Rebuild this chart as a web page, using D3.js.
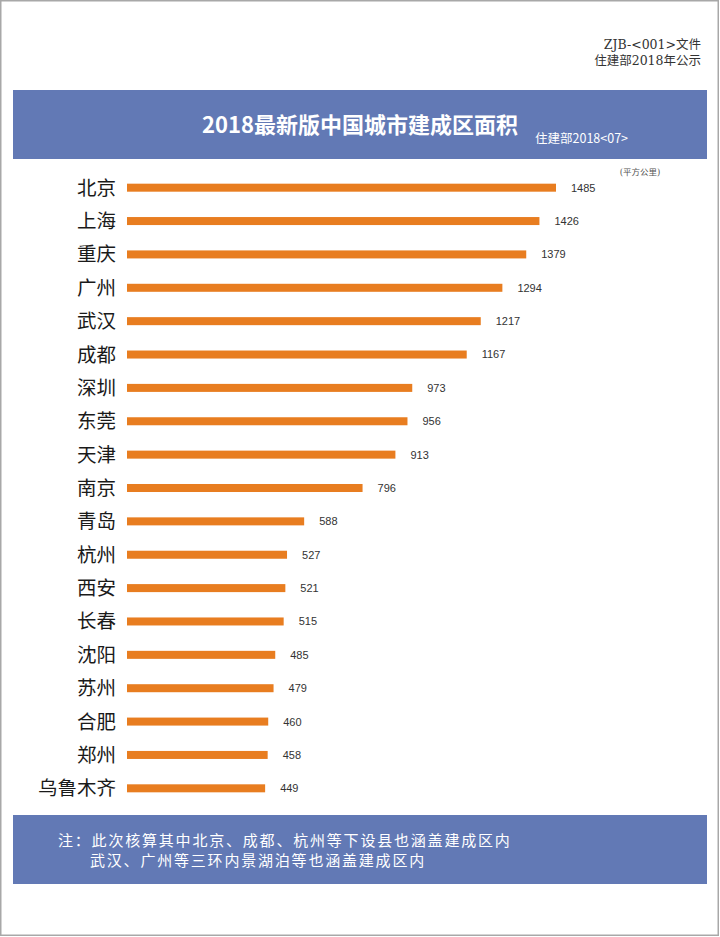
<!DOCTYPE html>
<html lang="zh">
<head>
<meta charset="UTF-8">
<title>2018最新版中国城市建成区面积</title>
<style>
  body, html { margin: 0; padding: 0; background: #fff; }
  #chart { width: 720px; height: 937px; }
</style>
<script src="https://d3js.org/d3.v7.min.js"></script>
</head>
<body>
<div id="chart"></div>
<script>
const cities = ["北京", "上海", "重庆", "广州", "武汉", "成都", "深圳", "东莞", "天津", "南京",
                "青岛", "杭州", "西安", "长春", "沈阳", "苏州", "合肥", "郑州", "乌鲁木齐"];
const areas = [1485, 1426, 1379, 1294, 1217, 1167, 973, 956, 913, 796,
               588, 527, 521, 515, 485, 479, 460, 458, 449];
const title = "2018最新版中国城市建成区面积";
const subtitle = "住建部2018<07>";
const docLines = ["ZJB-<001>文件", "住建部2018年公示"];
const unit = "(平方公里)";
const notes = ["注：此次核算其中北京、成都、杭州等下设县也涵盖建成区内",
               "武汉、广州等三环内景湖泊等也涵盖建成区内"];

const W = 720, H = 937;
const blue = "#6279b5", orange = "#e87d20";
const sans = "'Noto Sans CJK SC', 'Liberation Sans', Arial, sans-serif";
const serif = "'DejaVu Serif', 'Liberation Serif', 'Noto Sans CJK SC', serif";

const svg = d3.select("#chart").append("svg")
    .attr("width", W).attr("height", H);

// page frame
svg.append("rect")
    .attr("x", 0.75).attr("y", 0.75).attr("width", W - 2.5).attr("height", H - 2.5)
    .attr("fill", "#fff").attr("stroke", "#a8a8a8").attr("stroke-width", 1.5);

// document code top right
svg.selectAll("text.doc").data(docLines).enter().append("text")
    .attr("class", "doc")
    .attr("x", 701).attr("y", (d, i) => 49 + i * 16)
    .attr("text-anchor", "end")
    .style("font-family", serif).style("font-size", "12.5px").style("fill", "#333")
    .text(d => d);

// header band
svg.append("rect").attr("x", 13).attr("y", 90).attr("width", 694).attr("height", 69).attr("fill", blue);
svg.append("text")
    .attr("x", 360).attr("y", 133).attr("text-anchor", "middle")
    .style("font-family", sans).style("font-size", "22px").style("font-weight", "bold").style("fill", "#fff")
    .text(title);
svg.append("text")
    .attr("x", 535).attr("y", 143)
    .style("font-family", sans).style("font-size", "12.5px").style("fill", "#fff")
    .text(subtitle);

// unit
svg.append("text")
    .attr("x", 640).attr("y", 175).attr("text-anchor", "middle")
    .style("font-family", serif).style("font-size", "8.5px").style("fill", "#555")
    .text(unit);

// scales (the picture's bars are not strictly proportional; this linear fit is close)
const y = d3.scaleBand().domain(cities).range([171, 805]).paddingInner(0.76).paddingOuter(0.38);
const x = d3.scaleLinear().domain([-43, 1485]).range([127, 556]);
const x0 = x.range()[0];

const rows = svg.selectAll("g.row").data(cities).enter().append("g")
    .attr("class", "row");

rows.append("rect")
    .attr("x", x0)
    .attr("y", d => y(d))
    .attr("width", (d, i) => x(areas[i]) - x0)
    .attr("height", y.bandwidth())
    .attr("fill", orange);

rows.append("text")
    .attr("x", 116)
    .attr("y", d => y(d) + y.bandwidth() / 2)
    .attr("dy", "0.36em")
    .attr("text-anchor", "end")
    .style("font-family", sans).style("font-size", "19.5px").style("fill", "#1a1a1a")
    .text(d => d);

rows.append("text")
    .attr("x", (d, i) => x(areas[i]) + 15)
    .attr("y", d => y(d) + y.bandwidth() / 2)
    .attr("dy", "0.36em")
    .style("font-family", "'Liberation Sans', Arial, sans-serif").style("font-size", "11px").style("fill", "#333")
    .text((d, i) => areas[i]);

// footer band
svg.append("rect").attr("x", 13).attr("y", 815).attr("width", 694).attr("height", 69).attr("fill", blue);
svg.selectAll("text.note").data(notes).enter().append("text")
    .attr("class", "note")
    .attr("x", (d, i) => i === 0 ? 58 : 90)
    .attr("y", (d, i) => 846 + i * 20)
    .style("font-family", serif).style("font-size", "15px").style("letter-spacing", "1.8px").style("fill", "#fff")
    .text(d => d);
</script>
</body>
</html>
